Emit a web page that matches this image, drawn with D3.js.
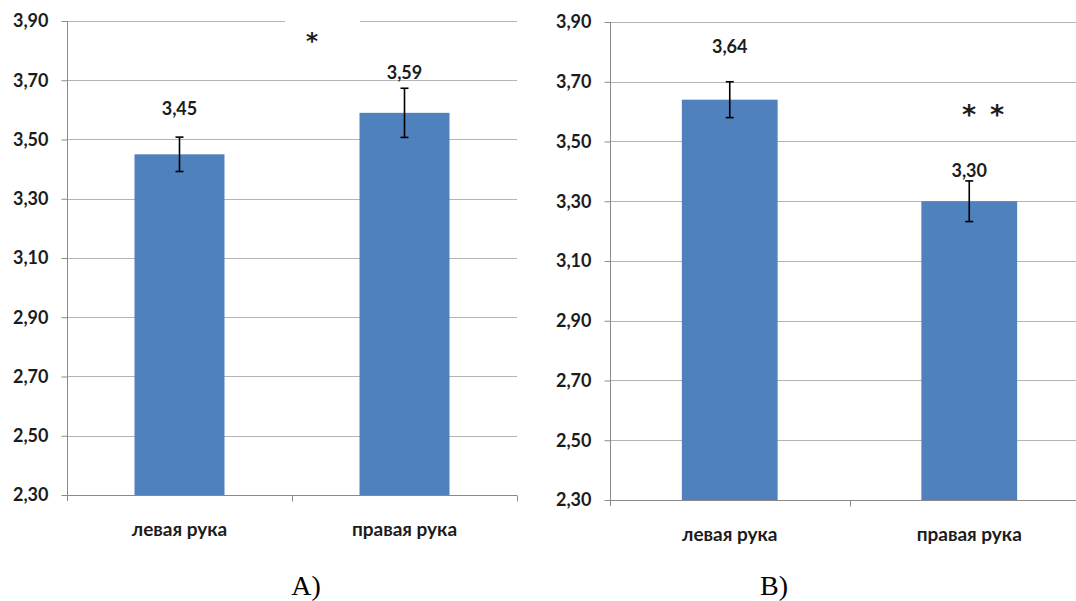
<!DOCTYPE html>
<html>
<head>
<meta charset="utf-8">
<script src="https://cdn.jsdelivr.net/npm/d3@7"></script>
<style>
  html, body { margin: 0; padding: 0; background: #fff; }
  svg { display: block; }
</style>
</head>
<body>
<svg id="chart" width="1076" height="601"></svg>
<script>
// Categories shared by both panels
const categories = ["левая рука", "правая рука"];

// Panel A: means and error half-widths
const meansA = [3.45, 3.59];
const errorsA = [0.058, 0.083];

// Panel B: means and error half-widths
const meansB = [3.64, 3.30];
const errorsB = [0.06, 0.068];

// Y axis ticks (same for both panels)
const yTicks = [2.3, 2.5, 2.7, 2.9, 3.1, 3.3, 3.5, 3.7, 3.9];

// Panel captions and significance marks
const panelCaptions = ["A)", "B)"];
const marksA = ["*"];
const marksB = ["*", "*"];

const fmt = v => d3.format(".2f")(v).replace(".", ",");

const svg = d3.select("#chart");
const BAR = "#4f81bd";
const GRID = "#b4b4b4";
const AXIS = "#8a8a8a";
const TEXT = "#1c1c1c";
const FONT = "Lato, 'Open Sans', sans-serif";
const NUM_SIZE = 18;
const CAT_SIZE = 19;

function drawPanel(opts) {
  const { means, errors, xRange, yRange, labelLift } = opts;
  const g = svg.append("g");

  const x = d3.scaleBand().domain(categories).range(xRange)
    .paddingInner(0.6).paddingOuter(0.3);
  const y = d3.scaleLinear().domain([2.3, 3.9]).range(yRange);

  // gridlines
  g.append("g").selectAll("line").data(yTicks.slice(1)).join("line")
    .attr("x1", xRange[0]).attr("x2", xRange[1])
    .attr("y1", d => Math.round(y(d)) + 0.5).attr("y2", d => Math.round(y(d)) + 0.5)
    .attr("stroke", GRID).attr("stroke-width", 1);

  // y axis
  const yAxis = g.append("g")
    .attr("transform", `translate(${xRange[0] + 0.5},0)`)
    .call(d3.axisLeft(y).tickValues(yTicks).tickSize(6).tickPadding(13).tickFormat(fmt));
  yAxis.select(".domain").attr("stroke", AXIS).attr("d", `M0,${yRange[1]}V${yRange[0] + 6}`);
  yAxis.selectAll(".tick line").attr("stroke", AXIS);
  yAxis.selectAll(".tick text")
    .attr("fill", TEXT).attr("font-family", FONT).attr("font-weight", 700)
    .attr("font-size", NUM_SIZE);

  // x axis baseline with ticks at category boundaries
  const step = x.step();
  const bounds = d3.range(categories.length + 1).map(i => xRange[0] + i * step);
  const base = Math.round(y(2.3)) + 0.5;
  g.append("line").attr("x1", xRange[0]).attr("x2", xRange[1])
    .attr("y1", base).attr("y2", base).attr("stroke", AXIS);
  g.append("g").selectAll("line").data(bounds.slice(1)).join("line")
    .attr("x1", d => Math.round(d) + 0.5).attr("x2", d => Math.round(d) + 0.5)
    .attr("y1", base).attr("y2", base + 6).attr("stroke", AXIS);

  // category labels
  g.append("g").selectAll("text").data(categories).join("text")
    .attr("x", d => x(d) + x.bandwidth() / 2)
    .attr("y", base + 40)
    .attr("text-anchor", "middle")
    .attr("fill", TEXT).attr("font-family", FONT).attr("font-weight", 700)
    .attr("font-size", CAT_SIZE)
    .text(d => d);

  // bars
  g.append("g").selectAll("rect").data(means).join("rect")
    .attr("x", (d, i) => x(categories[i]))
    .attr("width", x.bandwidth())
    .attr("y", d => y(d))
    .attr("height", d => y(2.3) - y(d))
    .attr("fill", BAR);

  // error bars
  const eb = g.append("g").attr("stroke", "#000").attr("stroke-width", 1.6);
  means.forEach((m, i) => {
    const cx = x(categories[i]) + x.bandwidth() / 2;
    const top = y(m + errors[i]);
    const bot = y(m - errors[i]);
    eb.append("line").attr("x1", cx).attr("x2", cx).attr("y1", top).attr("y2", bot);
    eb.append("line").attr("x1", cx - 4).attr("x2", cx + 4).attr("y1", top).attr("y2", top);
    eb.append("line").attr("x1", cx - 4).attr("x2", cx + 4).attr("y1", bot).attr("y2", bot);
  });

  // value labels
  g.append("g").selectAll("text").data(means).join("text")
    .attr("x", (d, i) => x(categories[i]) + x.bandwidth() / 2)
    .attr("y", (d, i) => y(d) - labelLift[i])
    .attr("text-anchor", "middle")
    .attr("dominant-baseline", "central")
    .attr("fill", TEXT).attr("font-family", FONT).attr("font-weight", 700)
    .attr("font-size", NUM_SIZE)
    .text(d => fmt(d));

  return { g, x, y };
}

// Panel A
const pA = drawPanel({
  means: meansA, errors: errorsA,
  xRange: [67, 517], yRange: [495, 21],
  labelLift: [46, 41]
});
// text box over the top gridline holding the significance mark
pA.g.append("rect").attr("x", 285).attr("y", 12).attr("width", 75).attr("height", 40).attr("fill", "#fff");
pA.g.append("g").selectAll("text").data(marksA).join("text")
  .attr("x", 312).attr("y", 49)
  .attr("text-anchor", "middle")
  .attr("fill", TEXT).attr("font-family", "'DejaVu Sans', sans-serif").attr("font-weight", 700)
  .attr("font-size", 23)
  .text(d => d);

// Panel B
const pB = drawPanel({
  means: meansB, errors: errorsB,
  xRange: [610, 1089], yRange: [500, 22],
  labelLift: [54, 31]
});
pB.g.append("g").selectAll("text").data(marksB).join("text")
  .attr("x", (d, i) => 969 + i * 28).attr("y", 124)
  .attr("text-anchor", "middle")
  .attr("fill", TEXT).attr("font-family", "'DejaVu Sans', sans-serif").attr("font-weight", 700)
  .attr("font-size", 27)
  .text(d => d);

// Panel captions
svg.append("g").selectAll("text").data(panelCaptions).join("text")
  .attr("x", (d, i) => [306, 774][i])
  .attr("y", 595)
  .attr("text-anchor", "middle")
  .attr("fill", "#000")
  .attr("font-family", "'Liberation Serif', 'Times New Roman', serif")
  .attr("font-size", 28)
  .text(d => d);
</script>
</body>
</html>
